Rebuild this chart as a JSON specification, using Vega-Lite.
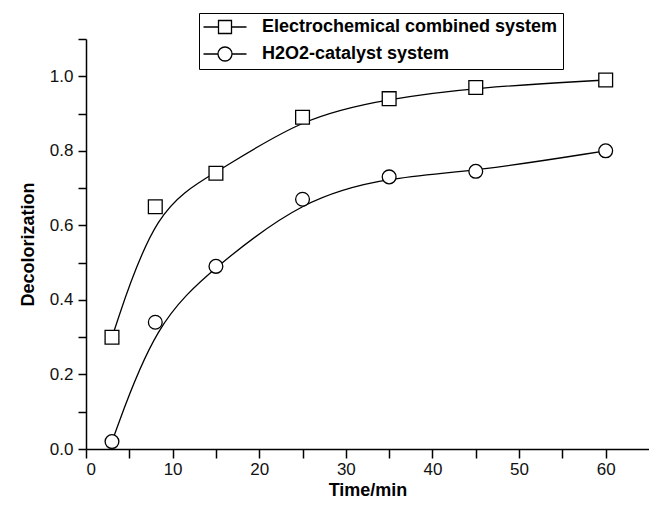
{
  "$schema": "https://vega.github.io/schema/vega-lite/v6.json",
  "autosize": "none",
  "width": 563,
  "height": 410,
  "padding": {"left": 86, "top": 39, "right": 0, "bottom": 58},
  "background": "white",
  "config": {
    "view": {"stroke": null},
    "font": "Liberation Sans",
    "axis": {
      "domainColor": "black", "domainWidth": 1.5, "tickColor": "black", "tickWidth": 1.5,
      "labelColor": "#111", "labelFont": "Liberation Sans", "labelFontSize": 17,
      "titleColor": "black", "titleFont": "Liberation Sans", "titleFontSize": 18, "titleFontWeight": "bold",
      "grid": false
    }
  },
  "data": {"values": [
    {"series": "Electrochemical combined system", "t": 3, "d": 0.30},
    {"series": "Electrochemical combined system", "t": 8, "d": 0.65},
    {"series": "Electrochemical combined system", "t": 15, "d": 0.74},
    {"series": "Electrochemical combined system", "t": 25, "d": 0.89},
    {"series": "Electrochemical combined system", "t": 35, "d": 0.94},
    {"series": "Electrochemical combined system", "t": 45, "d": 0.97},
    {"series": "Electrochemical combined system", "t": 60, "d": 0.99},
    {"series": "H2O2-catalyst system", "t": 3, "d": 0.02},
    {"series": "H2O2-catalyst system", "t": 8, "d": 0.34},
    {"series": "H2O2-catalyst system", "t": 15, "d": 0.49},
    {"series": "H2O2-catalyst system", "t": 25, "d": 0.67},
    {"series": "H2O2-catalyst system", "t": 35, "d": 0.73},
    {"series": "H2O2-catalyst system", "t": 45, "d": 0.745},
    {"series": "H2O2-catalyst system", "t": 60, "d": 0.80}
  ]},
  "encoding": {
    "x": {"field": "t", "type": "quantitative", "title": "Time/min",
      "scale": {"domain": [0, 65], "nice": false, "zero": false},
      "axis": {"values": [0,5,10,15,20,25,30,35,40,45,50,55,60], "labelExpr": "datum.value % 10 ? '' : datum.label",
        "tickSize": 9, "labelPadding": 3, "titlePadding": 4,
        "encode": {"ticks": {"update": {"y2": {"signal": "datum.value % 10 ? 5 : 9"}}}}}},
    "y": {"field": "d", "type": "quantitative", "title": "Decolorization",
      "scale": {"domain": [0, 1.1], "nice": false},
      "axis": {"values": [0,0.1,0.2,0.3,0.4,0.5,0.6,0.7,0.8,0.9,1.0,1.1], "format": ".1f",
        "labelExpr": "round(datum.value*10) % 2 ? '' : datum.label",
        "tickSize": 8, "labelPadding": 5, "titlePadding": 12,
        "encode": {"ticks": {"update": {"x2": {"signal": "round(datum.value*10) % 2 ? -4 : -8"}}}}}}
  },
  "layer": [
    {"mark": {"type": "line", "interpolate": "basis", "color": "black", "strokeWidth": 1.3},
     "encoding": {"detail": {"field": "series"}}},
    {"mark": {"type": "point", "filled": false, "fill": "white", "fillOpacity": 1, "stroke": "black", "strokeWidth": 1.3, "size": 190, "opacity": 1},
     "encoding": {"shape": {"field": "series", "type": "nominal", "scale": {"range": ["square", "circle"]}, "legend": null}}},
    {"mark": {"type": "point", "filled": false, "stroke": "black", "opacity": 0, "size": 100},
     "encoding": {"shape": {"field": "series", "type": "nominal", "title": null,
       "scale": {"range": [
         "M-4.3,0H-1.3M1.3,0H4.3M-1.3,-1.3H1.3V1.3H-1.3Z",
         "M-4.3,0H-1.4M1.4,0H4.3M-1.4,0A1.4,1.4 0 1,0 1.4,0A1.4,1.4 0 1,0 -1.4,0Z"
       ]},
       "legend": {"orient": "none", "legendX": 113, "legendY": -26,
         "symbolSize": 100, "symbolOpacity": 1, "symbolFillColor": "white", "symbolStrokeColor": "black", "symbolStrokeWidth": 1.3,
         "symbolOffset": 12, "labelOffset": 28, "labelLimit": 0,
         "labelFont": "Liberation Sans", "labelFontSize": 18, "labelFontWeight": "bold", "labelColor": "black",
         "rowPadding": 7, "padding": 5, "strokeColor": "black", "fillColor": "white",
         "encode": {"symbols": {"update": {"opacity": {"value": 1}, "fill": {"value": "white"}, "fillOpacity": {"value": 1}, "strokeWidth": {"value": 1.3}}}}}}}}
  ],
  "resolve": {"scale": {"shape": "independent"}}
}
